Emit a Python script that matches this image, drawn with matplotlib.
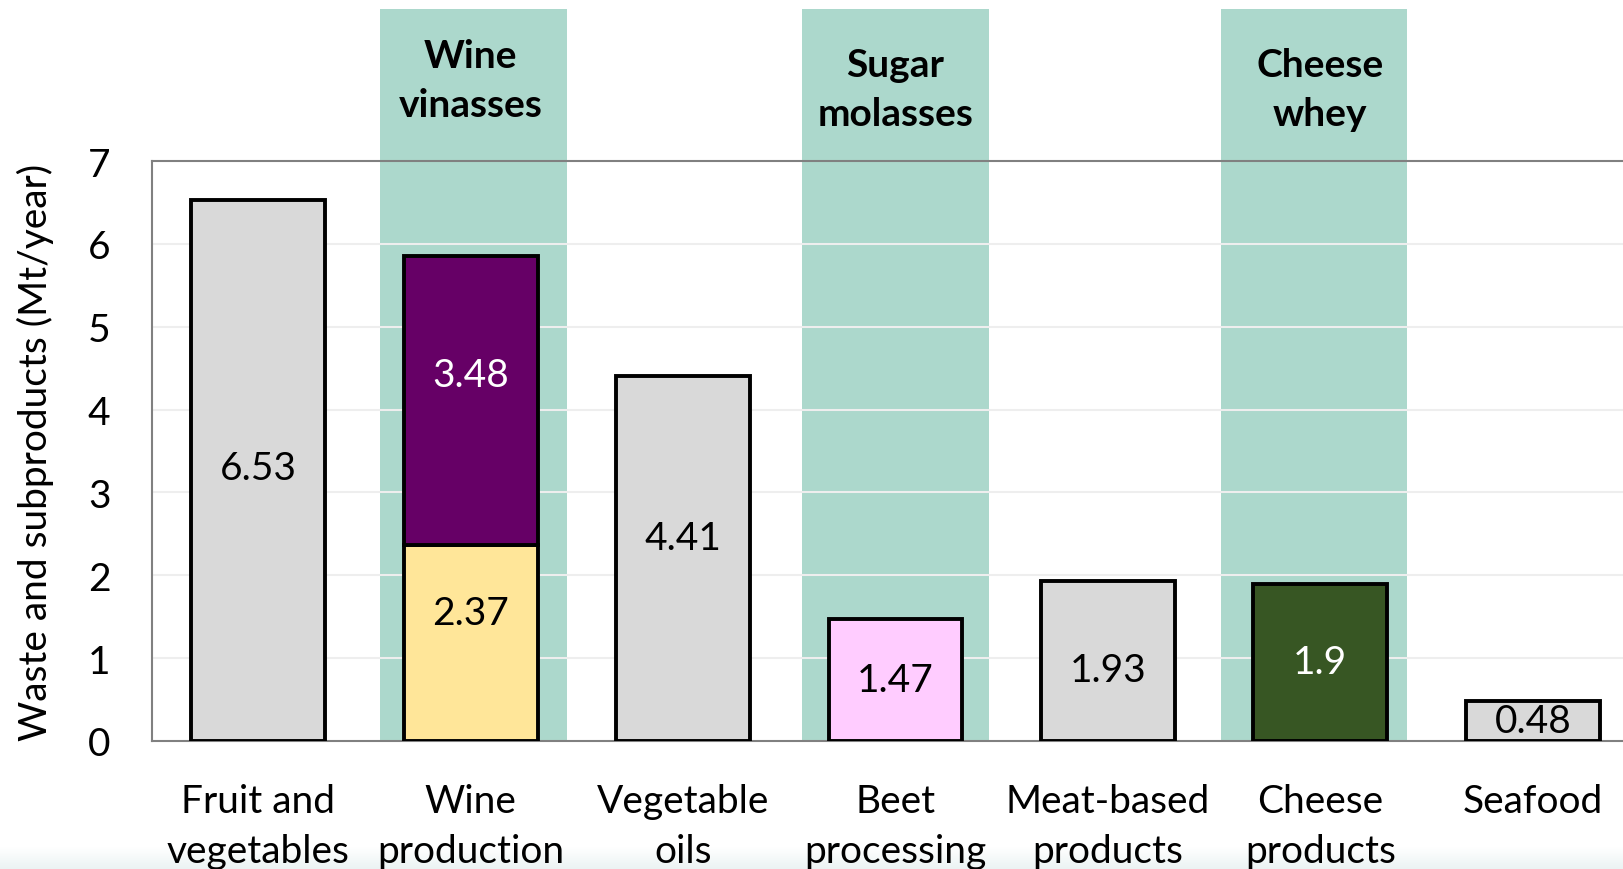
import numpy as np
import matplotlib.pyplot as plt
from matplotlib.colors import LinearSegmentedColormap

# Data
categories = ["Fruit and\nvegetables", "Wine\nproduction", "Vegetable\noils", "Beet\nprocessing",
              "Meat-based\nproducts", "Cheese\nproducts", "Seafood"]
base_values = [6.53, 2.37, 4.41, 1.47, 1.93, 1.9, 0.48]
top_values = [0, 3.48, 0, 0, 0, 0, 0]   # vinasses on top of wine
base_colors = ["#d9d9d9", "#ffe699", "#d9d9d9", "#ffccff", "#d9d9d9", "#375623", "#d9d9d9"]
base_text = ["black", "black", "black", "black", "black", "white", "black"]
highlight_idx = [1, 3, 5]
highlight_labels = ["Wine\nvinasses", "Sugar\nmolasses", "Cheese\nwhey"]

# label / band placement (nudged by hand in the original)
base_label_y = [3.29, 1.54, 2.45, 0.74, 0.86, 0.95, 0.24]
top_label_y = [0, 4.42, 0, 0, 0, 0, 0]
highlight_label_y = [7.98, 7.87, 7.87]
band_shift = [0.015, 0.0, -0.03]

plt.rcParams['font.family'] = ['Lato', 'DejaVu Sans']
FS = 28

fig = plt.figure(figsize=(16.24, 8.7), dpi=100)
W, H = 1624, 870

# faint slide gradient at the very bottom
bg = fig.add_axes([0, 0, 1, 22 / H], zorder=-5)
bg.imshow(np.linspace(0, 1, 50).reshape(-1, 1), aspect="auto", extent=[0, 1, 0, 1],
          cmap=LinearSegmentedColormap.from_list("g", ["#ffffff", "#ebf3f3"]))
bg.axis("off")

left, right, top, bottom = 152, 1639, 162, 742
ax = fig.add_axes([left / W, 1 - bottom / H, (right - left) / W, (bottom - top) / H])
ax.patch.set_alpha(0)

x = np.arange(len(categories))
ax.set_xlim(-0.5, len(categories) - 0.5)
ax.set_ylim(0, 7)

# highlight bands extending above plot
band_top = (bottom - 10) / (bottom - top)
for i, sh in zip(highlight_idx, band_shift):
    ax.axvspan(i - 0.44 + sh, i + 0.44 + sh, ymin=0, ymax=band_top, color="#acd8cc", lw=0,
               zorder=0, clip_on=False)

for yv in range(1, 7):
    ax.axhline(yv, color="#eeeeee", lw=1.5, zorder=1)

ax.bar(x, base_values, width=0.63, color=base_colors, edgecolor="black", linewidth=2.8, zorder=3)
ax.bar(x, top_values, bottom=base_values, width=0.63, color="#660066", edgecolor="black",
       linewidth=2.8 * (np.array(top_values) > 0), zorder=3)

for i, v in enumerate(base_values):
    ax.text(i, base_label_y[i], f"{v:g}", ha="center", va="center", fontsize=FS,
            color=base_text[i], zorder=4)
for i, v in enumerate(top_values):
    if v > 0:
        ax.text(i, top_label_y[i], f"{v:g}", ha="center", va="center", fontsize=FS,
                color="white", zorder=4)

for i, lab, yl in zip(highlight_idx, highlight_labels, highlight_label_y):
    ax.text(i, yl, lab, ha="center", va="center", fontsize=FS, fontweight="bold",
            linespacing=1.5, clip_on=False, zorder=4)

ax.set_xticks(x)
ax.set_xticklabels(categories, fontsize=FS, linespacing=1.5)
ax.set_yticks(range(8))
ax.tick_params(axis="y", labelsize=FS, length=0, pad=30)
ax.tick_params(axis="x", length=0, pad=30)
ax.set_ylabel("Waste and subproducts (Mt/year)", fontsize=FS, labelpad=24)

for s in ax.spines.values():
    s.set_color("#808080")
    s.set_linewidth(1.5)
ax.spines["right"].set_visible(False)

fig.savefig("out.png", dpi=100)
